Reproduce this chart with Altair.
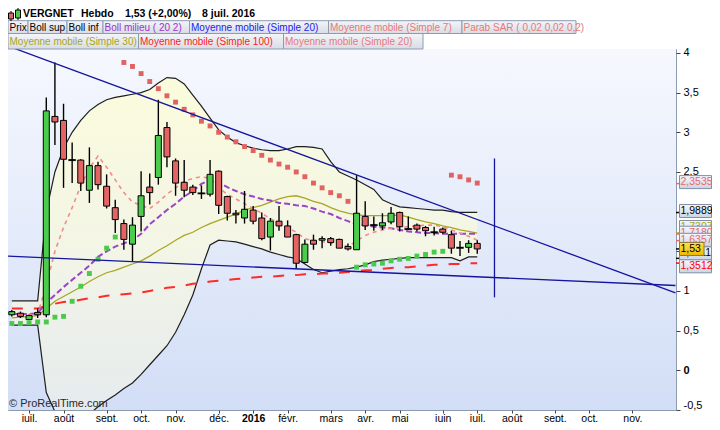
import json
import altair as alt
import pandas as pd

# ---------------- data ----------------
candle_dates = list(pd.date_range("2015-06-22", periods=55, freq="7D").strftime("%Y-%m-%d"))

opens = [0.70, 0.72, 0.64, 0.73, 0.70, 3.20, 3.15, 2.65, 2.65, 2.27,
         2.58, 2.32, 2.05, 1.85, 1.59, 1.94, 2.31, 2.43, 3.06, 2.64,
         2.37, 2.31, 2.23, 2.22, 2.51, 2.19, 1.98, 1.92, 2.02, 1.92,
         1.68, 1.88, 1.82, 1.71, 1.36, 1.64, 1.64, 1.66, 1.65, 1.56,
         1.52, 1.94, 1.83, 1.82, 1.87, 1.99, 1.78, 1.83, 1.80, 1.74,
         1.78, 1.71, 1.545, 1.55, 1.60]
closes = [0.74, 0.68, 0.69, 0.70, 3.27, 3.13, 2.66, 2.65, 2.36, 2.58,
          2.34, 2.07, 1.90, 1.65, 1.83, 2.20, 2.24, 2.96, 2.69, 2.36,
          2.27, 2.24, 2.23, 2.47, 2.08, 1.98, 1.96, 2.03, 1.88, 1.66,
          1.88, 1.82, 1.68, 1.35, 1.59, 1.59, 1.66, 1.61, 1.54, 1.53,
          1.98, 1.82, 1.83, 1.86, 1.98, 1.81, 1.78, 1.78, 1.76, 1.74,
          1.74, 1.54, 1.545, 1.60, 1.53]
highs = [0.76, 0.74, 0.70, 0.78, 3.44, 3.88, 3.36, 2.87, 2.66, 2.81,
         2.63, 2.47, 2.15, 1.90, 1.93, 2.51, 2.48, 3.41, 3.13, 2.67,
         2.65, 2.34, 2.33, 2.65, 2.52, 2.20, 2.02, 2.26, 2.07, 1.99,
         1.92, 2.07, 1.89, 1.72, 1.65, 1.71, 1.69, 1.68, 1.66, 1.60,
         2.46, 2.13, 1.94, 1.98, 2.06, 2.00, 1.94, 1.85, 1.82, 1.81,
         1.80, 1.76, 1.63, 1.64, 1.64]
lows = [0.68, 0.66, 0.63, 0.66, 0.67, 2.84, 2.30, 2.36, 2.26, 2.11,
        2.28, 2.04, 1.73, 1.52, 1.37, 1.75, 2.09, 2.34, 2.56, 2.20,
        2.18, 2.21, 2.16, 2.19, 1.97, 1.89, 1.85, 1.85, 1.84, 1.64,
        1.51, 1.76, 1.68, 1.28, 1.35, 1.52, 1.54, 1.57, 1.54, 1.51,
        1.52, 1.77, 1.76, 1.77, 1.84, 1.75, 1.77, 1.75, 1.69, 1.70,
        1.72, 1.47, 1.44, 1.48, 1.47]

boll_sup = [0.875, 0.875, 0.875, 0.875,
            2.00, 2.50, 2.80, 3.00, 3.15, 3.27, 3.35, 3.41, 3.44, 3.46,
            3.48, 3.50, 3.54, 3.62, 3.69, 3.68, 3.61, 3.47, 3.33, 3.18,
            3.03, 2.94, 2.87, 2.83, 2.80, 2.78, 2.77, 2.77, 2.79, 2.82,
            2.82, 2.81, 2.79, 2.63, 2.50, 2.45, 2.40, 2.34, 2.28, 2.15,
            2.10, 2.06, 2.05, 2.04, 2.03, 2.02, 2.02, 2.00, 1.99, 1.99,
            1.99]
boll_inf = [0.57, 0.57, 0.57, 0.57,
            -0.28, -0.52, -0.62, -0.66, -0.63, -0.55, -0.46, -0.38, -0.31, -0.23,
            -0.16, -0.05, 0.07, 0.19, 0.31, 0.48, 0.70, 0.95, 1.28, 1.58,
            1.64, 1.63, 1.62, 1.59, 1.56, 1.53, 1.49, 1.46, 1.43, 1.41,
            1.34, 1.27, 1.23, 1.25, 1.27, 1.28, 1.30, 1.33, 1.37, 1.39,
            1.40, 1.41, 1.42, 1.42, 1.42, 1.42, 1.42, 1.42, 1.38, 1.43,
            1.43]
boll_mid = [0.71, 0.71, 0.71, 0.72,
            0.85, 0.95, 1.05, 1.14, 1.23, 1.32, 1.43, 1.50, 1.56, 1.60,
            1.64, 1.72, 1.84, 1.93, 2.02, 2.10, 2.19, 2.26, 2.35, 2.40,
            2.37, 2.31, 2.26, 2.22, 2.19, 2.16, 2.14, 2.11, 2.10, 2.08,
            2.07, 2.04, 2.00, 1.97, 1.92, 1.88, 1.84, 1.83, 1.81, 1.80,
            1.79, 1.77, 1.75, 1.74, 1.73, 1.73, 1.72, 1.72, 1.72, 1.72,
            1.72]
ma7 = [0.72, 0.71, 0.70, 0.71,
       1.07, 1.50, 1.80, 2.05, 2.33, 2.55, 2.70, 2.56, 2.40, 2.24,
       2.12, 2.08, 2.04, 2.12, 2.22, 2.30, 2.38, 2.42, 2.44, 2.42,
       2.30, 2.22, 2.16, 2.10, 2.04, 1.98, 1.91, 1.86, 1.80, 1.74,
       1.66, 1.63, 1.62, 1.61, 1.59, 1.56, 1.63, 1.70, 1.74, 1.77,
       1.79, 1.80, 1.81, 1.82, 1.83, 1.83, 1.81, 1.77, 1.73, 1.69,
       1.64]
ma30 = [0.66, 0.67, 0.68, 0.69,
        0.78, 0.87, 0.93, 0.99, 1.05, 1.12, 1.18, 1.23, 1.26, 1.30,
        1.34, 1.38, 1.44, 1.51, 1.57, 1.64, 1.70, 1.74, 1.80, 1.85,
        1.89, 1.93, 1.97, 2.02, 2.05, 2.08, 2.12, 2.16, 2.19, 2.20,
        2.17, 2.13, 2.10, 2.05, 2.01, 1.98, 1.96, 1.95, 1.95, 1.95,
        1.95, 1.96, 1.93, 1.90, 1.87, 1.85, 1.82, 1.80, 1.77, 1.75,
        1.73]
ma100 = [0.78, 0.78, 0.78, 0.78,
         0.81, 0.84, 0.86, 0.87, 0.89, 0.91, 0.92, 0.94, 0.95, 0.96,
         0.97, 0.98, 1.00, 1.02, 1.04, 1.05, 1.07, 1.09, 1.10, 1.12,
         1.13, 1.14, 1.15, 1.16, 1.17, 1.18, 1.18, 1.19, 1.20, 1.20,
         1.21, 1.21, 1.22, 1.22, 1.23, 1.24, 1.25, 1.26, 1.26, 1.28,
         1.29, 1.30, 1.30, 1.31, 1.32, 1.33, 1.33, 1.34, 1.34, 1.35,
         1.35]
sar = [0.59, 0.59, 0.60, 0.61, 0.61, 0.67, 0.68, 0.87, 1.06, 1.22, 1.40, 1.54, 1.68,
       3.88, 3.83, 3.74, 3.64, 3.55, 3.46, 3.38, 3.29, 3.22, 3.14, 3.08, 3.00, 2.94,
       2.88, 2.82, 2.77, 2.71, 2.65, 2.60, 2.56, 2.50, 2.44, 2.36, 2.30, 2.24, 2.20, 2.13,
       1.30, 1.33, 1.34, 1.35, 1.38, 1.40, 1.41, 1.44, 1.46, 1.49, 1.50,
       2.46, 2.44, 2.40, 2.36]
sar_side = ["bas"] * 13 + ["haut"] * 27 + ["bas"] * 11 + ["haut"] * 4

trend_names = ["a", "a", "b", "b"]
trend_dates = ["2015-06-15", "2016-12-12", "2015-06-15", "2016-12-12"]
trend_values = [4.11, 0.977, 1.441, 1.069]
vline_date = "2016-07-18"
vline_low, vline_high = 0.92, 2.67

tick_dates = ["2015-07-06", "2015-08-03", "2015-09-07", "2015-10-05", "2015-11-02",
              "2015-12-07", "2016-01-04", "2016-02-01", "2016-03-07", "2016-04-04",
              "2016-05-02", "2016-06-06", "2016-07-04", "2016-08-01", "2016-09-05",
              "2016-10-03", "2016-11-07"]
tick_labels = ["juil.", "août", "sept.", "oct.", "nov.", "déc.", "2016", "févr.", "mars",
               "avr.", "mai", "juin", "juil.", "août", "sept.", "oct.", "nov."]
y_ticks = [-0.5, 0, 0.5, 1, 1.5, 2, 2.5, 3, 3.5, 4]

value_labels = ["2,3535", "1,9889", "1,7307", "1,7180", "1,6357", "1,4111", "1,3512", "1,53"]
value_values = [2.3535, 1.9889, 1.7307, 1.7180, 1.6357, 1.4111, 1.3512, 1.53]
value_colors = ["#e46a6a", "#000000", "#a6a61a", "#e46a6a", "#e46a6a", "#000000", "#ff0000", "#000000"]

legend_texts = ["Prix", "Boll sup", "Boll inf", "Boll milieu ( 20 2)", "Moyenne mobile (Simple 20)",
                "Moyenne mobile (Simple 7)", "Parab SAR ( 0,02 0,02 0,2)",
                "Moyenne mobile (Simple 30)", "Moyenne mobile (Simple 100)", "Moyenne mobile (Simple 20)"]
legend_colors = ["#000000", "#000000", "#000000", "#9933cc", "#2222ee",
                 "#e87878", "#e87878", "#a6a61a", "#ff1a1a", "#e87878"]

title_parts = ["VERGNET", "Hebdo", "1,53 (+2,00%)", "8 juil. 2016"]

# ---------------- layout / styles ----------------
FONT = "Liberation Sans"
W, H = 668, 361
Y_DOMAIN = [-0.5, 4.05]
X_DOMAIN = [-1.863, 74.48]
PXU = H / (Y_DOMAIN[1] - Y_DOMAIN[0])
RIGHT_PAD = 36

ORIGIN = pd.Timestamp("2015-07-06")


def wk(d):
    return (pd.Timestamp(d) - ORIGIN).days / 7.0


candles = pd.DataFrame({"date": candle_dates, "o": opens, "h": highs, "l": lows, "c": closes})
candles["wk"] = [wk(d) for d in candle_dates]
candles["dir"] = ["up" if c > o else ("down" if c < o else "flat") for o, c in zip(opens, closes)]

ind = pd.DataFrame({"wk": candles["wk"], "sup": boll_sup, "inf": boll_inf, "mid": boll_mid,
                    "ma7": ma7, "ma30": ma30, "ma100": ma100})
sar_df = pd.DataFrame({"wk": candles["wk"], "sar": sar, "side": sar_side})
trend_df = pd.DataFrame({"line": trend_names, "wk": [wk(d) for d in trend_dates], "v": trend_values})
vline_df = pd.DataFrame({"wk": [wk(vline_date)], "lo": [vline_low], "hi": [vline_high]})

tick_wk = [wk(d) for d in tick_dates]

xs = alt.Scale(domain=X_DOMAIN, nice=False, zero=False)
ys = alt.Scale(domain=Y_DOMAIN, nice=False, zero=False)

label_expr_x = "%s[indexof(%s, datum.value)]" % (
    json.dumps(tick_labels, ensure_ascii=False), json.dumps(tick_wk))
xaxis = alt.Axis(values=tick_wk, labelExpr=label_expr_x, title=None, grid=False, domain=False,
                 tickSize=3, tickColor="#444444", labelPadding=0, offset=0,
                 labelFont=FONT, labelFontSize=10.5, labelColor="#000000",
                 labelFontWeight={"condition": {"test": "datum.value == 26", "value": "bold"}, "value": "normal"},
                 labelOverlap=False, labelFlush=False)
yaxis = alt.Axis(orient="right", values=y_ticks, title=None, grid=False, domain=False,
                 labelExpr="replace(toString(datum.value), '.', ',')",
                 tickSize=4, tickColor="#444444", labelPadding=3,
                 labelFont=FONT, labelFontSize=11, labelColor="#000000",
                 labelFontWeight={"condition": {"test": "datum.value == 0", "value": "bold"}, "value": "normal"},
                 labelOverlap=False, labelFlush=True)


def X(field="wk"):
    return alt.X(f"{field}:Q", scale=xs, axis=xaxis, title=None)


def Y(field):
    return alt.Y(f"{field}:Q", scale=ys, axis=yaxis, title=None)


def grad(c0, c1, mid=None):
    stops = [alt.GradientStop(color=c0, offset=0)]
    if mid:
        stops.append(alt.GradientStop(color=mid, offset=0.5))
    stops.append(alt.GradientStop(color=c1, offset=1))
    return alt.Gradient(gradient="linear", stops=stops, x1=0, x2=0, y1=0, y2=1)


one = pd.DataFrame({"k": [0]})
layers = []

# plot background
layers.append(alt.Chart(one).mark_rect(fill=grad("#f6f8fe", "#d2def6")).encode(
    x=alt.value(0), x2=alt.value(W), y=alt.value(0), y2=alt.value(H)))

# Bollinger band
layers.append(alt.Chart(ind).mark_area(clip=True, fill=grad("#fbfbdc", "#e4eaef", "#f3f5e6")).encode(
    x=X(), y=Y("sup"), y2="inf"))
for f in ["sup", "inf"]:
    layers.append(alt.Chart(ind).mark_line(clip=True, color="#1e1e1e", strokeWidth=1.2).encode(x=X(), y=Y(f)))

layers.append(alt.Chart(ind).mark_line(clip=True, color="#ff2a2a", strokeWidth=2, strokeDash=[11, 11]).encode(
    x=X(), y=Y("ma100")))
layers.append(alt.Chart(ind).mark_line(clip=True, color="#a8a624", strokeWidth=1.3).encode(x=X(), y=Y("ma30")))
layers.append(alt.Chart(ind).mark_line(clip=True, color="#9a44c8", strokeWidth=2, strokeDash=[6, 3]).encode(
    x=X(), y=Y("mid")))
layers.append(alt.Chart(ind).mark_line(clip=True, color="#f08c8c", strokeWidth=1.6, strokeDash=[4, 4]).encode(
    x=X(), y=Y("ma7")))

# candles
layers.append(alt.Chart(candles).mark_rule(clip=True, color="#000000", strokeWidth=1.4).encode(
    x=X(), y=Y("l"), y2="h"))
layers.append(alt.Chart(candles).mark_bar(clip=True, size=6, stroke="#000000", strokeWidth=1).encode(
    x=X(), y=Y("o"), y2="c",
    fill=alt.Fill("dir:N", scale=alt.Scale(domain=["up", "down", "flat"],
                                           range=["#4ccc4c", "#e46464", "#000000"]), legend=None)))
layers.append(alt.Chart(candles).transform_filter("datum.dir == 'flat'").mark_tick(
    clip=True, orient="horizontal", size=8, thickness=2, color="#000000").encode(x=X(), y=Y("o")))

# parabolic SAR
layers.append(alt.Chart(sar_df).mark_square(clip=True, size=24, opacity=1).encode(
    x=X(), y=Y("sar"),
    color=alt.Color("side:N", scale=alt.Scale(domain=["haut", "bas"], range=["#e06262", "#4cc94c"]), legend=None)))

# trend lines
layers.append(alt.Chart(trend_df).mark_line(clip=True, color="#14149e", strokeWidth=1.3).encode(
    x=X(), y=Y("v"), detail="line:N"))
layers.append(alt.Chart(vline_df).mark_rule(clip=True, color="#14149e", strokeWidth=1.3).encode(
    x=X(), y=Y("lo"), y2="hi"))

# copyright
layers.append(alt.Chart(one).mark_text(text="© ProRealTime.com", font=FONT, fontSize=11, color="#2a2a2a",
                                       align="left", baseline="middle").encode(
    x=alt.value(1), y=alt.value(H - 6)))

# right-hand value boxes
nudges_px = [-1.5, -1.5, -6, -1.3, -0.7, -5, 3.2, 0]
for i in range(len(value_labels)):
    disp = value_values[i] - nudges_px[i] / PXU
    half = 6.5 / PXU
    row = pd.DataFrame({"v": [value_values[i]], "d": [disp], "top": [disp + half], "bot": [disp - half],
                        "t": [value_labels[i]], "col": [value_colors[i]]})
    is_price = value_labels[i] == "1,53"
    layers.append(alt.Chart(row).mark_rule(strokeWidth=1.5).encode(
        x=alt.value(W), x2=alt.value(W + 4), y=Y("v"), color=alt.Color("col:N", scale=None)))
    layers.append(alt.Chart(row).mark_rect(
        stroke="#7f8fa6" if not is_price else "#8a7a30", strokeWidth=1,
        fill=grad("#ffe14a", "#f2b800") if is_price else grad("#f7f8fb", "#cbd4e2")).encode(
        x=alt.value(W + 3.5), x2=alt.value(W + 28 if is_price else W + RIGHT_PAD - 0.5), y=Y("top"), y2="bot"))
    layers.append(alt.Chart(row).mark_text(font=FONT, fontSize=10.5, align="left", baseline="middle").encode(
        x=alt.value(W + 4.5), y=Y("d"), text="t:N", color=alt.Color("col:N", scale=None)))

# header: legend boxes
lx0 = [0, 20, 59, 95, 181.5, 320.5, 454, 0, 130.5, 275.5]
lx1 = [20, 59, 95, 181.5, 320.5, 454, 568, 130.5, 275.5, 415]
lrow = [0, 0, 0, 0, 0, 0, 0, 1, 1, 1]
row_y = [(-28.3, -15.5), (-15.5, 0)]
leg = pd.DataFrame({"t": legend_texts, "col": legend_colors, "x0": lx0, "x1": lx1,
                    "y0": [row_y[r][0] for r in lrow], "y1": [row_y[r][1] for r in lrow]})
leg["xt"] = leg["x0"] + 1.5
leg["yc"] = (leg["y0"] + leg["y1"]) / 2 + 0.5
layers.append(alt.Chart(leg).mark_rect(fill=grad("#f4f5f9", "#d8dce6"), stroke="#8c9bb0", strokeWidth=1).encode(
    x=alt.X("x0:Q", scale=None, axis=None), x2="x1",
    y=alt.Y("y0:Q", scale=None, axis=None), y2="y1"))
layers.append(alt.Chart(leg).mark_text(font=FONT, fontSize=10, align="left", baseline="middle").encode(
    x=alt.X("xt:Q", scale=None, axis=None), y=alt.Y("yc:Q", scale=None, axis=None),
    text="t:N", color=alt.Color("col:N", scale=None)))

# header: title line
tt = pd.DataFrame({"t": title_parts, "x": [15, 73, 117, 194], "y": [-35] * 4})
layers.append(alt.Chart(tt).mark_text(font=FONT, fontSize=10.5, fontWeight="bold", align="left",
                                      baseline="middle", color="#000000").encode(
    x=alt.X("x:Q", scale=None, axis=None), y=alt.Y("y:Q", scale=None, axis=None), text="t:N"))

# header: small candle icon
icon = pd.DataFrame({"x0": [0.5, 7.5], "x1": [5.5, 12.5], "y0": [-36, -39], "y1": [-30, -31],
                     "xw": [3, 10], "w0": [-38, -41], "w1": [-28, -29], "f": ["#e46464", "#4ccc4c"]})
layers.append(alt.Chart(icon).mark_rule(color="#000000", strokeWidth=1).encode(
    x=alt.X("xw:Q", scale=None, axis=None), y=alt.Y("w0:Q", scale=None, axis=None), y2="w1"))
layers.append(alt.Chart(icon).mark_rect(stroke="#000000", strokeWidth=1).encode(
    x=alt.X("x0:Q", scale=None, axis=None), x2="x1", y=alt.Y("y0:Q", scale=None, axis=None), y2="y1",
    fill=alt.Fill("f:N", scale=None)))

chart = alt.layer(*layers).properties(
    width=W, height=H,
    autosize=alt.AutoSizeParams(type="none"),
    padding={"left": 0, "top": 41, "right": RIGHT_PAD, "bottom": 12},
    background="#ffffff",
).configure_view(stroke="#8c9bb0", strokeWidth=1)

chart.save("out.html", embed_options={"renderer": "svg", "actions": False})
